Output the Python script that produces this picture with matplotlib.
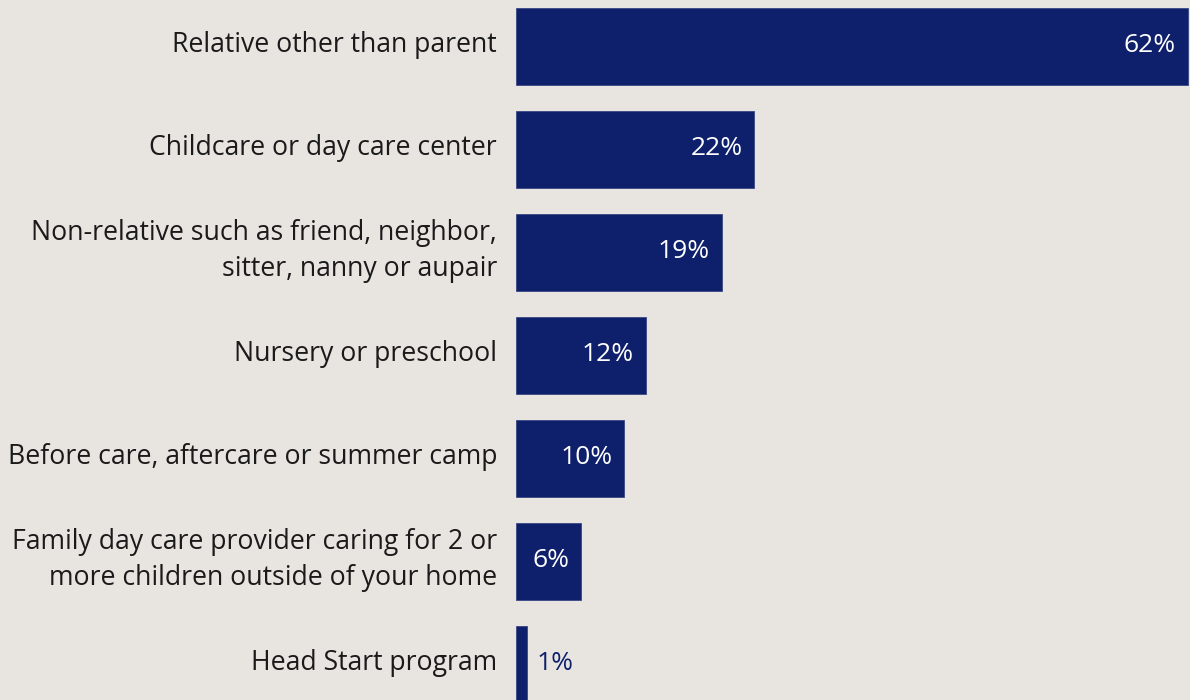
import matplotlib
matplotlib.use("Agg")
import matplotlib.pyplot as plt

categories = [
    "Relative other than parent",
    "Childcare or day care center",
    "Non-relative such as friend, neighbor,\nsitter, nanny or aupair",
    "Nursery or preschool",
    "Before care, aftercare or summer camp",
    "Family day care provider caring for 2 or\nmore children outside of your home",
    "Head Start program",
]
values = [62, 22, 19, 12, 10, 6, 1]

bg = "#E8E5E1"
navy = "#0E1F6B"

plt.rcParams["font.family"] = ["Open Sans", "DejaVu Sans"]

fig = plt.figure(figsize=(11.9, 7), dpi=100, facecolor=bg)
ax = fig.add_axes([516 / 1190, 0, 674 / 1190, 1])
ax.set_facecolor(bg)

ypos = list(range(len(values)))
ax.barh(ypos, values, height=0.75, color=navy, edgecolor="#3A4785", linewidth=0.6)

ax.set_xlim(0, 62.2)
ax.set_ylim(6.345, -0.4515)
ax.set_xticks([])
ax.set_yticks([])
for s in ax.spines.values():
    s.set_visible(False)

# category labels, right aligned left of the bars
for y, lab in zip(ypos, categories):
    ax.annotate(lab, xy=(0, y), xycoords=("axes fraction", "data"),
                xytext=(-19, 1.5), textcoords="offset pixels",
                ha="right", va="center", fontsize=19.2, color="#1a1a1a",
                linespacing=1.4, annotation_clip=False)

# value labels
for y, v in zip(ypos, values):
    if v >= 3:
        ax.annotate(f"{v}%", xy=(v, y), xytext=(-12, 1), textcoords="offset pixels",
                    ha="right", va="center", color="white", fontsize=19)
    else:
        ax.annotate(f"{v}%", xy=(v, y), xytext=(10, 1), textcoords="offset pixels",
                    ha="left", va="center", color=navy, fontsize=19)

fig.savefig("out.png", dpi=100, facecolor=bg)
